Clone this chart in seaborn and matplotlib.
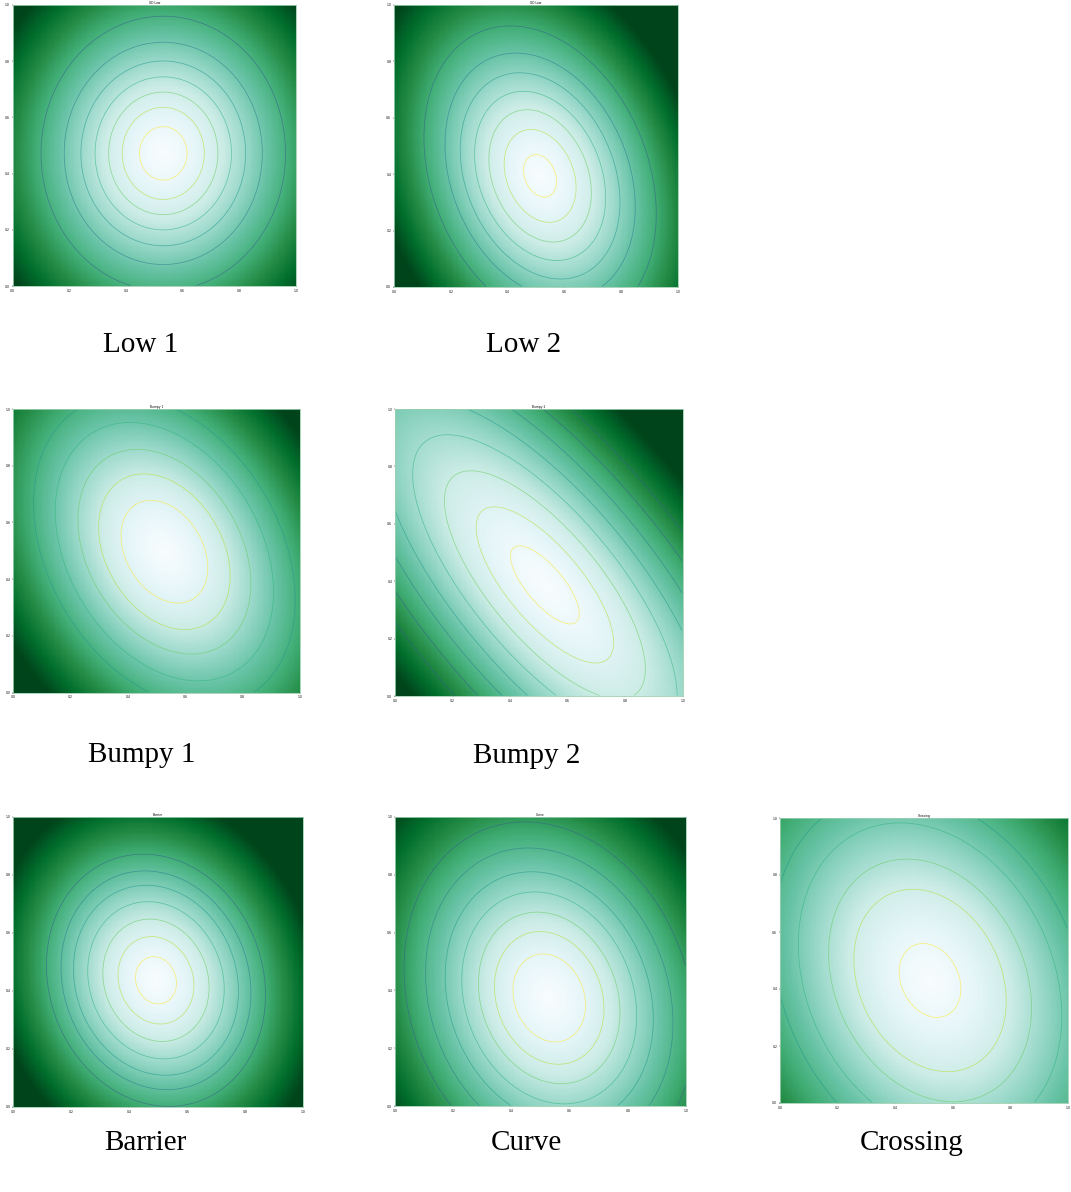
import numpy as np
import matplotlib
matplotlib.use("Agg")
import matplotlib.pyplot as plt
import seaborn as sns

# ---- data (normalised panel coordinates, 0..1) ----
panel_names = ["Low 1", "Low 2", "Bumpy 1", "Bumpy 2", "Barrier", "Curve", "Crossing"]
panel_titles = ["GD Low", "GD Low", "Bumpy 1", "Bumpy 2", "Barrier", "Curve", "Crossing"]
center_x = [0.532, 0.515, 0.527, 0.521, 0.493, 0.530, 0.521]
center_y = [0.472, 0.394, 0.497, 0.387, 0.437, 0.374, 0.430]
tilt_deg = [0, 22, 30, 40, 20, 20, 25]          # major axis lean from vertical
aspect = [1.13, 1.45, 1.45, 2.6, 1.2, 1.3, 1.35]
color_top = [0.66, 0.56, 0.62, 0.60, 0.55, 0.66, 0.83]  # distance reaching darkest green
radii_low1 = [0.084, 0.145, 0.193, 0.241, 0.291, 0.350, 0.432]
radii_low2 = [0.054, 0.118, 0.168, 0.215, 0.262, 0.312, 0.381]
radii_bumpy1 = [0.134, 0.203, 0.267, 0.337, 0.404]
radii_bumpy2 = [0.065, 0.13, 0.19, 0.25, 0.31, 0.37, 0.43, 0.49]
radii_barrier = [0.069, 0.128, 0.179, 0.230, 0.278, 0.320, 0.369]
radii_curve = [0.120, 0.181, 0.234, 0.289, 0.344, 0.409, 0.48]
radii_crossing = [0.10, 0.247, 0.329, 0.427, 0.51]
panel_radii = [radii_low1, radii_low2, radii_bumpy1, radii_bumpy2,
               radii_barrier, radii_curve, radii_crossing]
tick_labels = ["0.0", "0.2", "0.4", "0.6", "0.8", "1.0"]
GAMMA = 1.2

# ---- layout (pixels in a 1071 x 1192 figure) ----
W, H = 1071, 1192
boxes = [(12.7, 5, 295.7, 286), (394, 5, 677.7, 287),
         (13.3, 409, 300, 692.7), (395, 409, 682.7, 696),
         (13.3, 817, 302.7, 1107), (395, 817, 686, 1106),
         (780, 818, 1068, 1103)]
label_pos = [(141, 345), (524, 345), (142, 755), (527, 756),
             (145, 1143), (526, 1143), (912, 1143)]

N = 240
u = (np.arange(N) + 0.5) / N
v = 1 - (np.arange(N) + 0.5) / N
U, V = np.meshgrid(u, v)

fig = plt.figure(figsize=(W / 100, H / 100), dpi=100)
fig.patch.set_facecolor("white")

contour_cmap = plt.get_cmap("viridis_r")

for i, name in enumerate(panel_names):
    x0, y0, x1, y1 = boxes[i]
    ax = fig.add_axes([x0 / W, 1 - y1 / H, (x1 - x0) / W, (y1 - y0) / H])
    phi = np.deg2rad(tilt_deg[i])
    du = U - center_x[i]
    dv = V - center_y[i]
    p = -du * np.sin(phi) + dv * np.cos(phi)
    q = du * np.cos(phi) + dv * np.sin(phi)
    R = np.sqrt((p / aspect[i]) ** 2 + q ** 2)
    rad = panel_radii[i]

    sns.heatmap(R ** GAMMA, ax=ax, cmap="BuGn", vmin=0,
                vmax=color_top[i] ** GAMMA, cbar=False,
                xticklabels=False, yticklabels=False, rasterized=True)
    xs = np.arange(N) + 0.5
    line_cols = [contour_cmap(min(k, 6) / 8.5) for k in range(len(rad))]
    ax.contour(xs, xs, R, levels=rad, colors=line_cols,
               linewidths=0.55, alpha=0.6)
    ax.set_xticks(np.linspace(0, N, 6))
    ax.set_xticklabels(tick_labels, fontsize=2.2)
    ax.set_yticks(np.linspace(0, N, 6))
    ax.set_yticklabels(tick_labels[::-1], fontsize=2.2)
    ax.tick_params(length=1, width=0.3, pad=1)
    ax.set_xlim(0, N)
    ax.set_ylim(N, 0)
    ax.set_title(panel_titles[i], fontsize=2.2, pad=1)
    for s in ax.spines.values():
        s.set_visible(True)
        s.set_linewidth(0.6)
        s.set_edgecolor("#9ccfb0")

for (lx, ly), name in zip(label_pos, panel_names):
    fig.text(lx / W, 1 - ly / H, name, ha="center", va="center",
             fontsize=21, family=["Liberation Serif", "DejaVu Serif"])

fig.savefig("out.png", dpi=100)
